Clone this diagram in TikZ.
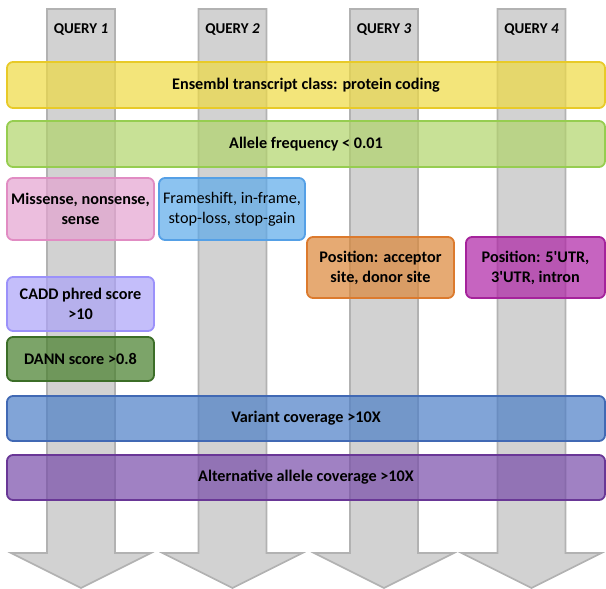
\documentclass[tikz,border=0pt]{standalone}
\usepackage{fontspec}
\setmainfont{Carlito}
\newcommand\sq{\XeTeXglyph\XeTeXcharglyph"27\relax}
\begin{document}
\begin{tikzpicture}[x=1pt,y=-1pt,
  qarrow/.style={fill=arrowfill,draw=arrowline,line width=1.6pt,line join=miter},
  qlabel/.style={font=\fontsize{15}{18}\selectfont\bfseries,text=black},
  box/.style={rounded corners=6pt,line width=1.8pt,fill opacity=0.7,text opacity=1,
    align=center,inner sep=2pt,font=\fontsize{16.2}{20}\selectfont\bfseries,text=black},
  wide/.style={box,minimum width=598pt,minimum height=46pt}
]
\definecolor{arrowfill}{RGB}{210,210,210}
\definecolor{arrowline}{RGB}{178,178,178}
\definecolor{yelF}{RGB}{238,218,66}\definecolor{yelB}{RGB}{232,202,40}
\definecolor{lgrF}{RGB}{177,212,105}\definecolor{lgrB}{RGB}{150,205,80}
\definecolor{pnkF}{RGB}{228,162,208}\definecolor{pnkB}{RGB}{225,140,195}
\definecolor{lblF}{RGB}{91,169,234}\definecolor{lblB}{RGB}{85,160,230}
\definecolor{orgF}{RGB}{219,134,55}\definecolor{orgB}{RGB}{220,122,45}
\definecolor{magF}{RGB}{174,34,165}\definecolor{magB}{RGB}{165,35,155}
\definecolor{lavF}{RGB}{171,162,248}\definecolor{lavB}{RGB}{155,145,250}
\definecolor{dgrF}{RGB}{69,126,41}\definecolor{dgrB}{RGB}{60,110,40}
\definecolor{vblF}{RGB}{76,126,198}\definecolor{vblB}{RGB}{65,105,180}
\definecolor{purF}{RGB}{119,76,169}\definecolor{purB}{RGB}{105,55,150}
\useasboundingbox (0,0) rectangle (606,589);
% query arrows
\foreach \c/\n in {81/1,232.5/2,384/3,531.5/4}{
  \draw[qarrow] (\c-34,9) -- (\c+34,9) -- (\c+34,553) -- (\c+70,553) -- (\c,588)
     -- (\c-70,553) -- (\c-34,553) -- cycle;
  \node[qlabel] (q\n) at (\c,30) {QUERY \textit{\n}};
}
% filter boxes
\node[wide,fill=yelF,draw=yelB] (ens) at (306,85) {Ensembl transcript class: protein coding};
\node[wide,fill=lgrF,draw=lgrB] (af) at (306,144) {Allele frequency < 0.01};
\node[box,fill=pnkF,draw=pnkB,minimum width=147pt,minimum height=62pt] (mis) at (80.5,209) {Missense, nonsense,\\sense};
\node[box,fill=lblF,draw=lblB,minimum width=146pt,minimum height=62pt,font=\fontsize{16.2}{20}\selectfont] (fs) at (232,209) {Frameshift, in-frame,\\stop-loss, stop-gain};
\node[box,fill=orgF,draw=orgB,minimum width=147pt,minimum height=61pt] (acc) at (380.5,267.5) {Position: acceptor\\site, donor site};
\node[box,fill=magF,draw=magB,minimum width=139pt,minimum height=61pt] (utr) at (535.5,267.5) {Position: 5\sq UTR,\\3\sq UTR, intron};
\node[box,fill=lavF,draw=lavB,minimum width=147pt,minimum height=54pt] (cadd) at (80.5,304) {CADD phred score\\>10};
\node[box,fill=dgrF,draw=dgrB,minimum width=147pt,minimum height=44pt] (dann) at (80.5,359) {DANN score >0.8};
\node[wide,fill=vblF,draw=vblB,minimum height=45pt] (var) at (306,418.5) {Variant coverage >10X};
\node[wide,fill=purF,draw=purB,minimum height=45pt] (alt) at (306,477.5) {Alternative allele coverage >10X};
\end{tikzpicture}
\end{document}
